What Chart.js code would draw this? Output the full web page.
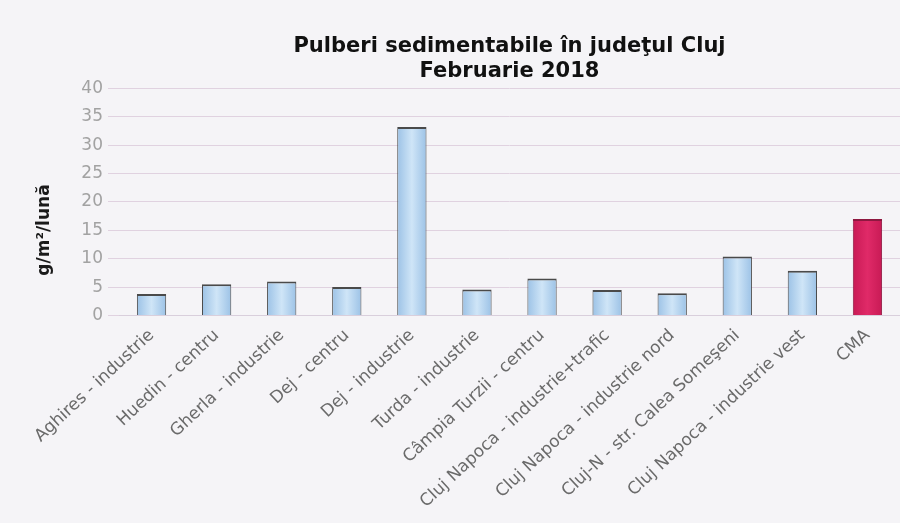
<!DOCTYPE html>
<html>
<head>
<meta charset="utf-8">
<script src="https://cdn.jsdelivr.net/npm/chart.js@4.4.1/dist/chart.umd.min.js"></script>
<style>
  html, body { margin: 0; padding: 0; background: #f5f4f7; }
  #wrap { width: 900px; height: 523px; position: relative; }
</style>
</head>
<body>
<div id="wrap"><canvas id="c" width="900" height="523"></canvas></div>
<script>
const categories = [
  "Aghires - industrie",
  "Huedin - centru",
  "Gherla - industrie",
  "Dej - centru",
  "Dej - industrie",
  "Turda - industrie",
  "Câmpia Turzii - centru",
  "Cluj Napoca - industrie+trafic",
  "Cluj Napoca - industrie nord",
  "Cluj-N - str. Calea Someşeni",
  "Cluj Napoca - industrie vest",
  "CMA"
];
const values = [3.8, 5.5, 6.0, 5.0, 33.2, 4.6, 6.5, 4.5, 3.9, 10.4, 7.9, 17];
const yTicks = [0, 5, 10, 15, 20, 25, 30, 35, 40];
const titleLines = ["Pulberi sedimentabile în judeţul Cluj", "Februarie 2018"];
const yTitle = "g/m²/lună";

const BAR_PCT = 0.45;

function barFill(context) {
  const chart = context.chart;
  const label = categories[context.dataIndex];
  const xs = chart.scales.x;
  if (!xs || xs.width === undefined || !chart.chartArea) {
    return label === "CMA" ? "#d8215f" : "#b3d4ef";
  }
  const cx = xs.getPixelForValue(context.dataIndex);
  const w = (xs.width / categories.length) * BAR_PCT;
  const g = chart.ctx.createLinearGradient(cx - w / 2, 0, cx + w / 2, 0);
  if (label === "CMA") {
    g.addColorStop(0, "#c81a55");
    g.addColorStop(0.5, "#e02a68");
    g.addColorStop(1, "#c81a55");
  } else {
    g.addColorStop(0, "#9cc2e6");
    g.addColorStop(0.5, "#cfe5f7");
    g.addColorStop(1, "#9cc2e6");
  }
  return g;
}
const borderColors = categories.map(c => c === "CMA" ? "#8e1840" : "#4a4a4a");

const bgPlugin = {
  id: "bg",
  beforeDraw(chart) {
    const ctx = chart.ctx;
    ctx.save();
    ctx.fillStyle = "#f5f4f7";
    ctx.fillRect(0, 0, chart.width, chart.height);
    ctx.restore();
  }
};
const yTitlePlugin = {
  id: "ytitle",
  afterDraw(chart) {
    const ctx = chart.ctx;
    ctx.save();
    ctx.translate(45, 230);
    ctx.rotate(-Math.PI / 2);
    ctx.font = "bold 17px 'DejaVu Sans'";
    ctx.fillStyle = "#1a1a1a";
    ctx.textAlign = "center";
    ctx.textBaseline = "middle";
    ctx.fillText(yTitle, 0, 0);
    ctx.restore();
  }
};

new Chart(document.getElementById("c"), {
  type: "bar",
  data: {
    labels: categories,
    datasets: [{
      data: values,
      backgroundColor: barFill,
      borderColor: borderColors,
      borderWidth: {top: 2, left: 1, right: 1, bottom: 0},
      borderSkipped: "bottom",
      barPercentage: BAR_PCT,
      categoryPercentage: 1.0
    }]
  },
  options: {
    responsive: false,
    animation: false,
    layout: { padding: { left: 0, right: 0, top: 0, bottom: 0 } },
    plugins: {
      legend: { display: false },
      tooltip: { enabled: false },
      title: {
        display: true,
        fullSize: false,
        text: titleLines,
        color: "#111",
        font: { family: "'DejaVu Sans'", size: 21, weight: "bold", lineHeight: 1.2 },
        padding: { top: 34, bottom: 4 }
      }
    },
    scales: {
      x: {
        grid: { display: false },
        border: { display: true, color: "#d9cfdc" },
        ticks: {
          color: "#6a6a6a",
          font: { family: "'DejaVu Sans'", size: 17 },
          minRotation: 43,
          maxRotation: 43,
          autoSkip: false,
          padding: 2
        },
        afterFit(scale) { scale.height = 207.5; }
      },
      y: {
        min: 0,
        max: 40,
        afterBuildTicks(scale) { scale.ticks = yTicks.map(v => ({ value: v })); },
        grid: { color: "#e0d2e0", lineWidth: 1, drawTicks: true, tickLength: 11 },
        border: { display: false },
        ticks: {
          color: "#a2a2a2",
          font: { family: "'DejaVu Sans'", size: 17 },
          padding: 5
        },
        afterFit(scale) { scale.width = 119; }
      }
    }
  },
  plugins: [bgPlugin, yTitlePlugin]
});
</script>
</body>
</html>
